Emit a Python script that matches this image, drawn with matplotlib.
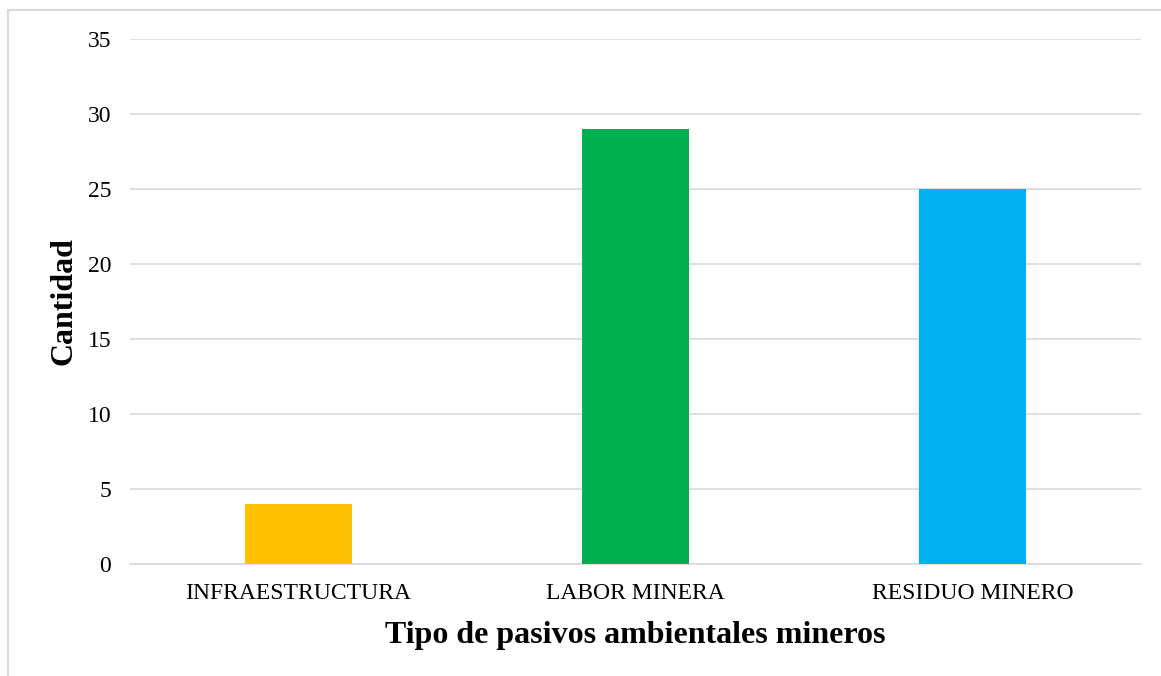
import matplotlib
matplotlib.use("Agg")
import matplotlib.pyplot as plt
from matplotlib.patches import Rectangle

categories = ["INFRAESTRUCTURA", "LABOR MINERA", "RESIDUO MINERO"]
values = [4, 29, 25]
colors = ["#FFC000", "#00B050", "#00B0F0"]
yticks = [0, 5, 10, 15, 20, 25, 30, 35]

plt.rcParams['font.family'] = ['Liberation Serif', 'DejaVu Serif']

W, H = 1161, 676
fig = plt.figure(figsize=(W/100, H/100), dpi=100)
fig.patch.set_facecolor("white")
fig.add_artist(Rectangle((8/W, -0.1), 1.2, 1 - 10/H + 0.1, transform=fig.transFigure,
                         fill=False, edgecolor="#D9D9D9", linewidth=1.5))

ax = fig.add_axes([130/W, 1 - 564/H, (1141-130)/W, (564-39)/H])
x = range(len(categories))
ax.bar(x, values, width=0.315, color=colors, zorder=3)
ax.set_xlim(-0.5, 2.5)
ax.set_ylim(0, 35)
ax.set_yticks(yticks)
ax.grid(axis="y", color="#D9D9D9", linewidth=1.2, zorder=0)
for s in ["top", "right", "left"]:
    ax.spines[s].set_visible(False)
ax.spines["bottom"].set_color("#D9D9D9")
ax.spines["bottom"].set_linewidth(1.2)
ax.tick_params(axis="both", length=0, labelsize=17, colors="black")
ax.tick_params(axis="y", pad=13.5)
ax.tick_params(axis="x", pad=14)
ax.set_xticks(list(x))
ax.set_xticklabels(categories)
ax.set_ylabel("Cantidad", fontsize=23, fontweight="bold", labelpad=6.5)
ax.set_xlabel("Tipo de pasivos ambientales mineros", fontsize=23, fontweight="bold", labelpad=12)

fig.savefig("out.png", dpi=100)
